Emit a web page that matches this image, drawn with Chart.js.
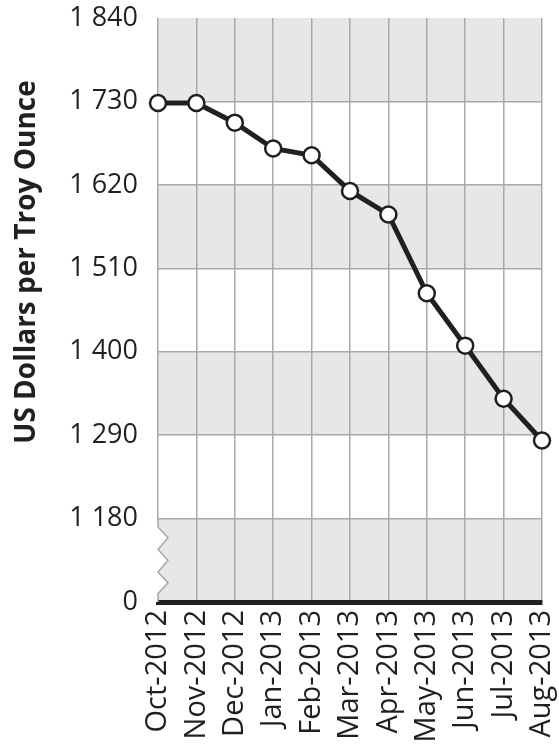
<!DOCTYPE html>
<html lang="en">
<head>
    <meta charset="UTF-8">
    <title>Gold price</title>
    <script src="https://cdn.jsdelivr.net/npm/chart.js"></script>
    <style>
        html, body {
            margin: 0;
            padding: 0;
            background-color: #ffffff;
        }

        .chart-box {
            width: 559px;
            height: 746px;
        }
    </style>
</head>
<body>
    <div class="chart-box">
        <canvas id="goldChart" width="559" height="746"></canvas>
    </div>

    <script>
        // months on the x axis
        const months = ['Oct-2012', 'Nov-2012', 'Dec-2012', 'Jan-2013', 'Feb-2013', 'Mar-2013',
                        'Apr-2013', 'May-2013', 'Jun-2013', 'Jul-2013', 'Aug-2013'];

        // US dollars per troy ounce
        const prices = [1728, 1728, 1702, 1668, 1659, 1612, 1581, 1477, 1408, 1338, 1283];

        // y ticks; the lowest one sits at the axis break and is shown as 0
        const yTicks = [1070, 1180, 1290, 1400, 1510, 1620, 1730, 1840];
        const breakValue = 1070;

        const yTitle = 'US Dollars per Troy Ounce';

        const ink = '#231f20';
        const gridGrey = '#a7a9ac';
        const bandGrey = '#e6e7e8';

        function formatTick(v) {
            if (v === breakValue) return '0';
            return String(v).replace(/\B(?=(\d{3})+(?!\d))/g, ' ');
        }

        // alternating grey/white bands behind the grid
        const bandPlugin = {
            id: 'bands',
            beforeDraw(chart) {
                const { ctx, chartArea, scales } = chart;
                const y = scales.y;
                ctx.save();
                for (let i = yTicks.length - 1; i > 0; i -= 2) {
                    const top = y.getPixelForValue(yTicks[i]);
                    const bottom = y.getPixelForValue(yTicks[i - 1]);
                    ctx.fillStyle = bandGrey;
                    ctx.fillRect(chartArea.left, top, chartArea.right - chartArea.left, bottom - top);
                }
                ctx.restore();
            }
        };

        // zigzag on the left edge to mark the broken axis
        const breakPlugin = {
            id: 'axisBreak',
            beforeDatasetsDraw(chart) {
                const { ctx, scales } = chart;
                const x0 = scales.x.getPixelForValue(0);
                const yTop = scales.y.getPixelForValue(yTicks[1]);
                const yBot = scales.y.getPixelForValue(breakValue);
                const h = yBot - yTop;
                const amp = 10;
                const pts = [[0, 0], [0, 0.1], [amp, 0.23], [0, 0.37], [amp, 0.5], [0, 0.64], [amp, 0.77], [0, 0.9], [0, 1]];
                ctx.save();
                // white wedge over the band and grid line
                ctx.beginPath();
                ctx.moveTo(x0 - 2, yTop + 1);
                pts.forEach(p => ctx.lineTo(x0 + p[0], yTop + p[1] * h));
                ctx.lineTo(x0 - 2, yBot);
                ctx.closePath();
                ctx.fillStyle = '#ffffff';
                ctx.fill();
                // zigzag line
                ctx.beginPath();
                pts.forEach((p, i) => {
                    const px = x0 + p[0];
                    const py = yTop + p[1] * h;
                    if (i === 0) ctx.moveTo(px, py); else ctx.lineTo(px, py);
                });
                ctx.strokeStyle = gridGrey;
                ctx.lineWidth = 1.5;
                ctx.stroke();
                ctx.restore();
            }
        };

        // y axis title, set a bit above the middle of the axis like the original
        const titlePlugin = {
            id: 'yTitle',
            afterDraw(chart) {
                const { ctx } = chart;
                ctx.save();
                ctx.translate(27, 262);
                ctx.rotate(-Math.PI / 2);
                ctx.font = 'bold 28px "Open Sans"';
                ctx.fillStyle = ink;
                ctx.textAlign = 'center';
                ctx.textBaseline = 'middle';
                ctx.fillText(yTitle, 0, 0);
                ctx.restore();
            }
        };

        const ctx = document.getElementById('goldChart').getContext('2d');
        new Chart(ctx, {
            type: 'line',
            data: {
                labels: months,
                datasets: [
                    {
                        data: prices,
                        borderColor: ink,
                        borderWidth: 5,
                        pointRadius: 8,
                        pointBorderWidth: 2.5,
                        pointBackgroundColor: '#ffffff',
                        pointBorderColor: ink,
                        tension: 0,
                        clip: false,
                    },
                ],
            },
            options: {
                responsive: false,
                animation: false,
                events: [],
                layout: {
                    padding: { top: 18, right: 17, left: 0, bottom: 0 },
                },
                plugins: {
                    legend: { display: false },
                    tooltip: { enabled: false },
                },
                scales: {
                    x: {
                        offset: false,
                        grid: {
                            color: gridGrey,
                            lineWidth: 1.5,
                            drawTicks: false,
                        },
                        border: {
                            display: true,
                            color: ink,
                            width: 5,
                        },
                        ticks: {
                            minRotation: 90,
                            maxRotation: 90,
                            autoSkip: false,
                            padding: 8,
                            color: ink,
                            font: { family: 'Open Sans', size: 29 },
                        },
                        afterFit(scale) {
                            scale.height = 144;
                            scale.paddingLeft = 0;
                            scale.paddingRight = 0;
                        },
                    },
                    y: {
                        min: 1070,
                        max: 1840,
                        afterBuildTicks(scale) {
                            scale.ticks = yTicks.map(v => ({ value: v }));
                        },
                        grid: {
                            color: c => (c.tick && (c.tick.value === 1840 || c.tick.value === breakValue)) ? 'rgba(0,0,0,0)' : gridGrey,
                            lineWidth: 1.5,
                            drawTicks: false,
                        },
                        border: { display: false },
                        ticks: {
                            padding: 20,
                            color: ink,
                            font: { family: 'Open Sans', size: 27 },
                            callback: v => formatTick(v),
                        },
                        afterFit(scale) {
                            scale.width = 158;
                            scale.paddingTop = 0;
                            scale.paddingBottom = 0;
                        },
                    },
                },
            },
            plugins: [bandPlugin, breakPlugin, titlePlugin],
        });
    </script>
</body>
</html>
